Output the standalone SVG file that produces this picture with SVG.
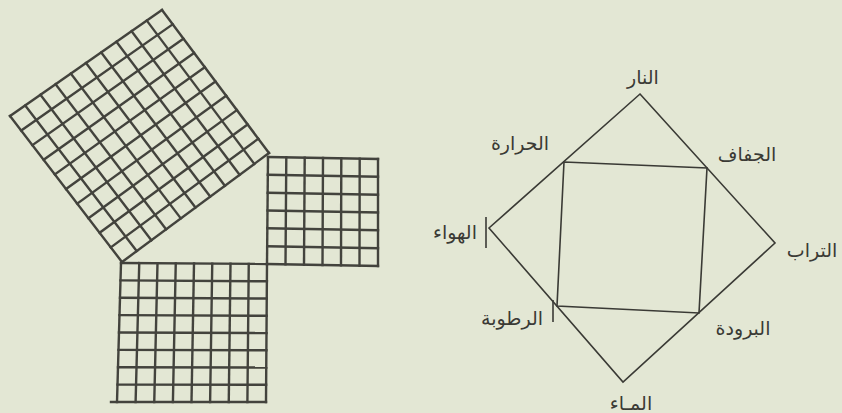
<svg xmlns="http://www.w3.org/2000/svg" width="842" height="413" viewBox="0 0 842 413">
<style>
.grid{stroke:#43433d;stroke-width:2.4;fill:none;stroke-linecap:square}
.thin{stroke:#3a3a35;stroke-width:1.6;fill:none;stroke-linejoin:miter}
.lbl{font-family:"DejaVu Sans",sans-serif;font-size:19px;fill:#3a3a35;text-anchor:middle}
</style>
<rect x="0" y="0" width="842" height="413" fill="#e3e7d4"/>
<g id="square-hypotenuse" class="grid">
<line x1="10" y1="116" x2="122" y2="262"/>
<line x1="25.2" y1="105.4" x2="136.7" y2="251.1"/>
<line x1="40.4" y1="94.8" x2="151.4" y2="240.2"/>
<line x1="55.6" y1="84.2" x2="166.1" y2="229.3"/>
<line x1="70.8" y1="73.6" x2="180.8" y2="218.4"/>
<line x1="86" y1="63" x2="195.5" y2="207.5"/>
<line x1="101.2" y1="52.4" x2="210.2" y2="196.6"/>
<line x1="116.4" y1="41.8" x2="224.9" y2="185.7"/>
<line x1="131.6" y1="31.2" x2="239.6" y2="174.8"/>
<line x1="146.8" y1="20.6" x2="254.3" y2="163.9"/>
<line x1="162" y1="10" x2="269" y2="153"/>
<line x1="10" y1="116" x2="162" y2="10"/>
<line x1="21.2" y1="130.6" x2="172.7" y2="24.3"/>
<line x1="32.4" y1="145.2" x2="183.4" y2="38.6"/>
<line x1="43.6" y1="159.8" x2="194.1" y2="52.9"/>
<line x1="54.8" y1="174.4" x2="204.8" y2="67.2"/>
<line x1="66" y1="189" x2="215.5" y2="81.5"/>
<line x1="77.2" y1="203.6" x2="226.2" y2="95.8"/>
<line x1="88.4" y1="218.2" x2="236.9" y2="110.1"/>
<line x1="99.6" y1="232.8" x2="247.6" y2="124.4"/>
<line x1="110.8" y1="247.4" x2="258.3" y2="138.7"/>
<line x1="122" y1="262" x2="269" y2="153"/>
</g>
<g id="square-bottom" class="grid">
<line x1="121" y1="263" x2="117" y2="402"/>
<line x1="139.25" y1="263.1" x2="135.6" y2="402"/>
<line x1="157.5" y1="263.25" x2="154.25" y2="402"/>
<line x1="175.75" y1="263.4" x2="172.9" y2="402"/>
<line x1="194" y1="263.5" x2="191.5" y2="402"/>
<line x1="212.25" y1="263.6" x2="210.1" y2="402"/>
<line x1="230.5" y1="263.75" x2="228.75" y2="402"/>
<line x1="248.75" y1="263.9" x2="247.4" y2="402"/>
<line x1="267" y1="264" x2="266" y2="402"/>
<line x1="121" y1="263" x2="267" y2="264"/>
<line x1="120.5" y1="280.4" x2="266.9" y2="281.25"/>
<line x1="120" y1="297.75" x2="266.75" y2="298.5"/>
<line x1="119.5" y1="315.1" x2="266.6" y2="315.75"/>
<line x1="119" y1="332.5" x2="266.5" y2="333"/>
<line x1="118.5" y1="349.9" x2="266.4" y2="350.25"/>
<line x1="118" y1="367.25" x2="266.25" y2="367.5"/>
<line x1="117.5" y1="384.6" x2="266.1" y2="384.75"/>
<line x1="111" y1="402" x2="266" y2="402"/>
</g>
<g id="square-right" class="grid">
<line x1="268" y1="157" x2="267" y2="264"/>
<line x1="286.3" y1="157.3" x2="285.5" y2="264.3"/>
<line x1="304.7" y1="157.7" x2="304" y2="264.7"/>
<line x1="323" y1="158" x2="322.5" y2="265"/>
<line x1="341.3" y1="158.3" x2="341" y2="265.3"/>
<line x1="359.7" y1="158.7" x2="359.5" y2="265.7"/>
<line x1="378" y1="159" x2="378" y2="266"/>
<line x1="268" y1="157" x2="378" y2="159"/>
<line x1="267.8" y1="174.8" x2="378" y2="176.8"/>
<line x1="267.7" y1="192.7" x2="378" y2="194.7"/>
<line x1="267.5" y1="210.5" x2="378" y2="212.5"/>
<line x1="267.3" y1="228.3" x2="378" y2="230.3"/>
<line x1="267.2" y1="246.2" x2="378" y2="248.2"/>
<line x1="267" y1="264" x2="378" y2="266"/>
</g>
<g id="diamond" class="thin">
<polygon points="640,94 775,243 623,382 489,228"/>
</g>
<g id="inner-square" class="thin">
<polygon points="564,162 707,168 699,313 557,306"/>
</g>
<g id="ticks" class="thin">
<line x1="486" y1="217" x2="486" y2="248"/>
<line x1="553" y1="300" x2="553" y2="322"/>
</g>
<g id="labels">
<text id="label-fire" class="lbl" x="643" y="84">النار</text>
<text id="label-heat" class="lbl" x="520" y="150">الحرارة</text>
<text id="label-dryness" class="lbl" x="747" y="161">الجفاف</text>
<text id="label-air" class="lbl" x="455" y="239">الهواء</text>
<text id="label-earth" class="lbl" x="812" y="257">التراب</text>
<text id="label-moisture" class="lbl" x="512" y="325">الرطوبة</text>
<text id="label-cold" class="lbl" x="743" y="335">البرودة</text>
<text id="label-water" class="lbl" x="631" y="410">المـاء</text>
</g>
</svg>
